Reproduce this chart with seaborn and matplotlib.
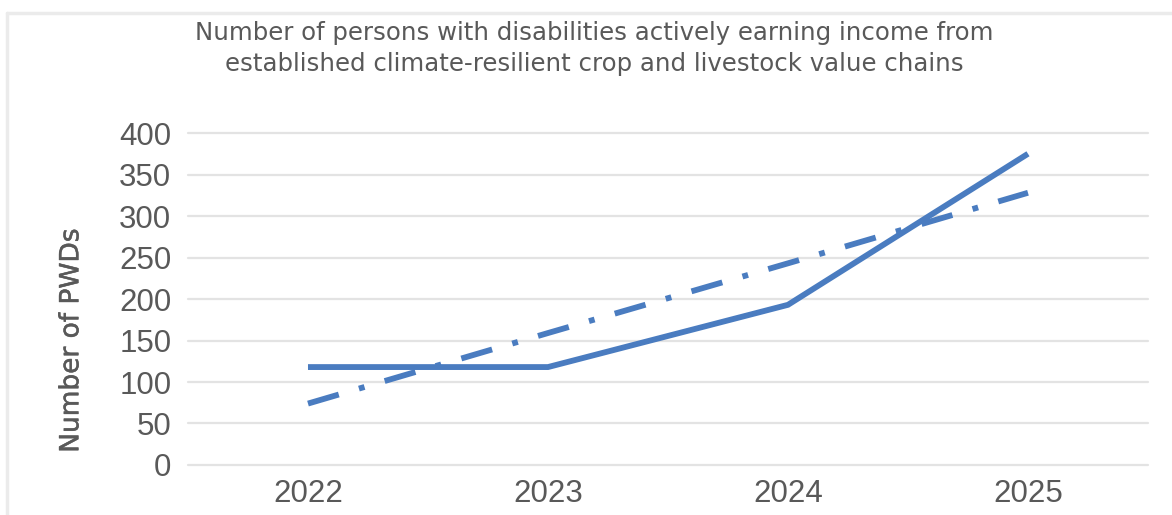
import matplotlib
matplotlib.use("Agg")
import matplotlib.pyplot as plt
import matplotlib.patheffects as pe
import seaborn as sns
import pandas as pd

# Data
years = ["2022", "2023", "2024", "2025"]
pwd_counts = [118, 118, 193, 375]
trend_counts = [74, 159, 243, 328]
y_ticks = [0, 50, 100, 150, 200, 250, 300, 350, 400]

title = ("Number of persons with disabilities actively earning income from\n"
         "established climate-resilient crop and livestock value chains")
y_label = "Number of PWDs"

sns.set_theme(style="white")
plt.rcParams["font.family"] = ["Liberation Sans", "DejaVu Sans"]

line_color = "#4a7cc0"
text_color = "#595959"
grid_color = "#e3e3e3"

df = pd.DataFrame({"year": years, "count": pwd_counts, "trend": trend_counts})
df["pos"] = range(len(years))

fig = plt.figure(figsize=(11.72, 5.15), dpi=100)
fig.patch.set_facecolor("white")

# light frame around chart area
fig.add_artist(plt.Line2D([0.006, 0.006], [0.0, 0.975], color="#ebebeb", lw=2.5,
                          transform=fig.transFigure))
fig.add_artist(plt.Line2D([0.006, 1.0], [0.975, 0.975], color="#ebebeb", lw=2.5,
                          transform=fig.transFigure))

ax = fig.add_axes([0.1604, 0.0971, 0.8191, 0.6446])

for yv in y_ticks:
    ax.axhline(yv, color=grid_color, lw=1.6, zorder=0, clip_on=False)

sns.lineplot(data=df, x="pos", y="trend", ax=ax, color=line_color, lw=4.2,
             linestyle=(0, (5.5, 3.6, 1.0, 3.6)), solid_capstyle="butt",
             dash_capstyle="butt", zorder=3)
sns.lineplot(data=df, x="pos", y="count", ax=ax, color=line_color, lw=4.2,
             solid_capstyle="butt", solid_joinstyle="miter", zorder=4)

ax.set_xlim(-0.5, 3.5)
ax.set_ylim(0, 400)
ax.set_xticks(df["pos"])
ax.set_xticklabels(years)
ax.set_yticks(y_ticks)
ax.tick_params(axis="both", length=0, labelsize=22.5, labelcolor=text_color)
ax.tick_params(axis="x", pad=10)
ax.tick_params(axis="y", pad=12)
ax.set_xlabel("")
ylab = ax.set_ylabel(y_label, fontsize=19, color=text_color, family=["DejaVu Sans"])
ylab.set_path_effects([pe.withStroke(linewidth=0.35, foreground=text_color)])
ax.yaxis.set_label_coords(-0.108, 0.375)
for sp in ax.spines.values():
    sp.set_visible(False)

fig.text(0.507, 0.959, title, ha="center", va="top", fontsize=17.6,
         color=text_color, linespacing=1.38, family=["DejaVu Sans"])

fig.savefig("out.png", dpi=100, facecolor="white")
